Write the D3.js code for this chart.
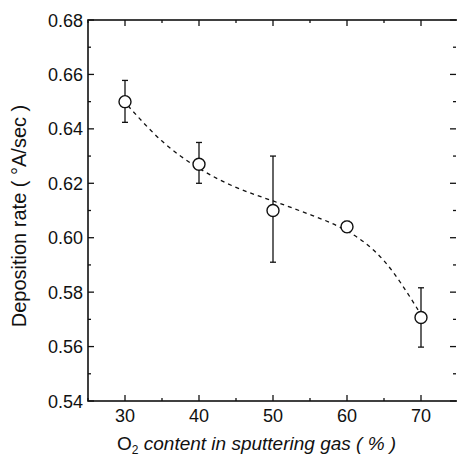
<!DOCTYPE html>
<html lang="en">
<head>
<meta charset="UTF-8" />
<title>Deposition rate</title>
<script src="https://cdn.jsdelivr.net/npm/d3@7"></script>
<style>
  body { margin: 0; background: #fff; }
  text { font-family: "Liberation Sans", Arial, sans-serif; fill: #111; }
  .fit { fill: none; stroke: #111; stroke-width: 1.3px; stroke-dasharray: 4 4; }
</style>
</head>
<body>
<script>
// measured points
var o2 = [30, 40, 50, 60, 70];
var rate = [0.650, 0.627, 0.610, 0.604, 0.5707];
var errHi = [0.6578, 0.635, 0.630, 0.606, 0.5816];
var errLo = [0.6424, 0.620, 0.591, 0.602, 0.5598];

// dashed fit curve
var fitX = [30.4, 35, 40, 45, 50, 55, 60, 65, 69.6];
var fitY = [0.6485, 0.6355, 0.6255, 0.6185, 0.6135, 0.6085, 0.6025, 0.5915, 0.5735];

var xTicks = [30, 40, 50, 60, 70];
var yTicks = [0.54, 0.56, 0.58, 0.60, 0.62, 0.64, 0.66, 0.68];

var w = 457, h = 457;
var margin = { top: 20, right: -1, bottom: 56, left: 88 };

var svg = d3.select("body").append("svg")
  .attr("width", w)
  .attr("height", h);

var xScale = d3.scaleLinear()
  .domain([25, 75])
  .range([margin.left, w - margin.right]);

var yScale = d3.scaleLinear()
  .domain([0.54, 0.68])
  .range([h - margin.bottom, margin.top]);

var x0 = margin.left, x1 = w - margin.right;
var y0 = h - margin.bottom, y1 = margin.top;

// inward ticks, major + minor
var xMinor = d3.range(25, 76, 5);
var yMinor = d3.range(0, 15).map(function(i) { return 0.54 + i * 0.01; });

var ax = svg.append("g").attr("stroke", "#111").attr("stroke-width", 1.3);

xMinor.forEach(function(v) {
  var major = xTicks.indexOf(v) >= 0;
  var len = major ? 6 : 3;
  ax.append("line").attr("x1", xScale(v)).attr("x2", xScale(v)).attr("y1", y0).attr("y2", y0 - len);
  ax.append("line").attr("x1", xScale(v)).attr("x2", xScale(v)).attr("y1", y1).attr("y2", y1 + len);
});
yMinor.forEach(function(v, i) {
  var len = (i % 2 === 0) ? 6 : 3;
  ax.append("line").attr("y1", yScale(v)).attr("y2", yScale(v)).attr("x1", x0).attr("x2", x0 + len);
  ax.append("line").attr("y1", yScale(v)).attr("y2", yScale(v)).attr("x1", x1 - 2).attr("x2", x1 - 2 - len);
});

svg.append("rect")
  .attr("x", x0).attr("y", y1)
  .attr("width", x1 - x0).attr("height", y0 - y1)
  .attr("fill", "none").attr("stroke", "#111").attr("stroke-width", 1.6);

// tick labels
svg.selectAll(".xt").data(xTicks).enter().append("text")
  .attr("x", function(d) { return xScale(d); })
  .attr("y", y0 + 21)
  .attr("text-anchor", "middle")
  .attr("font-size", 18)
  .text(function(d) { return d; });

svg.selectAll(".yt").data(yTicks).enter().append("text")
  .attr("x", x0 - 5)
  .attr("y", function(d) { return yScale(d) + 6.5; })
  .attr("text-anchor", "end")
  .attr("font-size", 18)
  .text(function(d) { return d.toFixed(2); });

// axis titles
var xt = svg.append("text")
  .attr("x", 117).attr("y", 450)
  .attr("font-size", 19);
xt.append("tspan").text("O");
xt.append("tspan").attr("font-size", 12).attr("dy", 4).text("2");
xt.append("tspan").attr("dy", -4).attr("font-style", "italic").text(" content in sputtering gas ( % )");

svg.append("text")
  .attr("transform", "translate(26,216) rotate(-90)")
  .attr("text-anchor", "middle")
  .attr("font-size", 20)
  .text("Deposition rate ( °A/sec )");

// fit curve
var line = d3.line()
  .x(function(d) { return xScale(d[0]); })
  .y(function(d) { return yScale(d[1]); })
  .curve(d3.curveNatural);

svg.append("path")
  .datum(d3.zip(fitX, fitY))
  .attr("class", "fit")
  .attr("d", line);

// error bars
var data = o2.map(function(v, i) { return { x: v, y: rate[i], hi: errHi[i], lo: errLo[i] }; });

var eb = svg.append("g").attr("stroke", "#111").attr("stroke-width", 1.3);
data.forEach(function(d) {
  var cx = xScale(d.x);
  eb.append("line").attr("x1", cx).attr("x2", cx).attr("y1", yScale(d.hi)).attr("y2", yScale(d.lo));
  eb.append("line").attr("x1", cx - 3).attr("x2", cx + 3).attr("y1", yScale(d.hi)).attr("y2", yScale(d.hi));
  eb.append("line").attr("x1", cx - 3).attr("x2", cx + 3).attr("y1", yScale(d.lo)).attr("y2", yScale(d.lo));
});

svg.selectAll("circle").data(data).enter().append("circle")
  .attr("cx", function(d) { return xScale(d.x); })
  .attr("cy", function(d) { return yScale(d.y); })
  .attr("r", 6)
  .attr("fill", "#fff")
  .attr("stroke", "#111")
  .attr("stroke-width", 1.4);
</script>
</body>
</html>
